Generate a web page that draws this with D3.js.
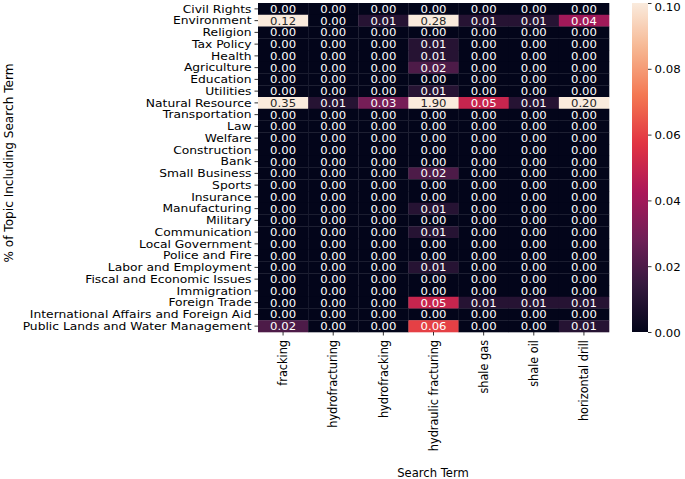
<!DOCTYPE html>
<html>
<head>
<meta charset="utf-8">
<script src="https://cdn.jsdelivr.net/npm/d3@7"></script>
<style>
  body { margin: 0; background: #fff; }
  text { font-family: "DejaVu Sans", sans-serif; }
</style>
</head>
<body>
<svg id="chart" width="685" height="479"></svg>
<script>
const terms = ["fracking", "hydrofracturing", "hydrofracking", "hydraulic fracturing", "shale gas", "shale oil", "horizontal drill"];
const topics = ["Civil Rights", "Environment", "Religion", "Tax Policy", "Health", "Agriculture", "Education", "Utilities",
  "Natural Resource", "Transportation", "Law", "Welfare", "Construction", "Bank", "Small Business", "Sports", "Insurance",
  "Manufacturing", "Military", "Communication", "Local Government", "Police and Fire", "Labor and Employment",
  "Fiscal and Economic Issues", "Immigration", "Foreign Trade", "International Affairs and Foreign Aid",
  "Public Lands and Water Management"];
// values per topic row, columns follow `terms`
const values = [
  [0, 0, 0, 0, 0, 0, 0],
  [0.12, 0, 0.01, 0.28, 0.01, 0.01, 0.04],
  [0, 0, 0, 0, 0, 0, 0],
  [0, 0, 0, 0.01, 0, 0, 0],
  [0, 0, 0, 0.01, 0, 0, 0],
  [0, 0, 0, 0.02, 0, 0, 0],
  [0, 0, 0, 0, 0, 0, 0],
  [0, 0, 0, 0.01, 0, 0, 0],
  [0.35, 0.01, 0.03, 1.90, 0.05, 0.01, 0.20],
  [0, 0, 0, 0, 0, 0, 0],
  [0, 0, 0, 0, 0, 0, 0],
  [0, 0, 0, 0, 0, 0, 0],
  [0, 0, 0, 0, 0, 0, 0],
  [0, 0, 0, 0, 0, 0, 0],
  [0, 0, 0, 0.02, 0, 0, 0],
  [0, 0, 0, 0, 0, 0, 0],
  [0, 0, 0, 0, 0, 0, 0],
  [0, 0, 0, 0.01, 0, 0, 0],
  [0, 0, 0, 0, 0, 0, 0],
  [0, 0, 0, 0.01, 0, 0, 0],
  [0, 0, 0, 0, 0, 0, 0],
  [0, 0, 0, 0, 0, 0, 0],
  [0, 0, 0, 0.01, 0, 0, 0],
  [0, 0, 0, 0, 0, 0, 0],
  [0, 0, 0, 0, 0, 0, 0],
  [0, 0, 0, 0.05, 0.01, 0.01, 0.01],
  [0, 0, 0, 0, 0, 0, 0],
  [0.02, 0, 0, 0.06, 0, 0, 0.01]
];
const colorTicks = [0, 0.02, 0.04, 0.06, 0.08, 0.10];
const rocketStops = ["#03051a", "#35193e", "#701f57", "#ad1759", "#e13342", "#f37651", "#f6b48f", "#faebdd"];
const rocketPos = [0, 1/7, 2/7, 3/7, 4/7, 5/7, 6/7, 1];

const svg = d3.select("#chart");
const mLeft = 258, mRight = 609, mTop = 3, mBottom = 332;
const vmin = 0, vmax = 0.1;
const FS = 11.3;

const x = d3.scaleBand().domain(terms).range([mLeft, mRight]);
const y = d3.scaleBand().domain(topics).range([mTop, mBottom]);
const rocket = d3.scaleLinear().domain(rocketPos).range(rocketStops).interpolate(d3.interpolateRgb).clamp(true);
const color = v => rocket((v - vmin) / (vmax - vmin));

const cells = [];
topics.forEach((t, i) => terms.forEach((s, j) => cells.push({t, s, v: values[i][j]})));

svg.append("g").selectAll("rect").data(cells).join("rect")
  .attr("x", d => x(d.s)).attr("y", d => y(d.t))
  .attr("width", x.bandwidth() + 0.3).attr("height", y.bandwidth() + 0.3)
  .attr("fill", d => color(d.v));

function lum(c) {
  const r = d3.rgb(c);
  const f = u => { u /= 255; return u <= 0.03928 ? u / 12.92 : Math.pow((u + 0.055) / 1.055, 2.4); };
  return 0.2126 * f(r.r) + 0.7152 * f(r.g) + 0.0722 * f(r.b);
}

svg.append("g").selectAll("text").data(cells).join("text")
  .attr("transform", d => `translate(${x(d.s) + x.bandwidth() / 2},${y(d.t) + y.bandwidth() / 2}) scale(1.03,1)`)
  .attr("dy", "0.36em")
  .attr("text-anchor", "middle")
  .attr("font-size", FS)
  .attr("fill", d => lum(color(d.v)) > 0.408 ? "#262626" : "#ffffff")
  .text(d => d3.format(".2f")(d.v));

// axes
const SY = 1.09;
const yAxis = d3.axisLeft(y).tickSizeOuter(0).tickSize(3.5).tickPadding(2);
const gy = svg.append("g").attr("transform", `translate(${mLeft},0)`).call(yAxis);
gy.select(".domain").remove();
gy.selectAll("text").attr("font-size", FS).attr("fill", "#000").style("font-family", "DejaVu Sans")
  .attr("x", -6.5 / SY).attr("transform", `scale(${SY},1)`);
gy.selectAll("line").attr("stroke", "#000").attr("stroke-width", 0.8);

const xAxis = d3.axisBottom(x).tickSizeOuter(0).tickSize(3.5).tickPadding(2);
const gx = svg.append("g").attr("transform", `translate(0,${mBottom})`).call(xAxis);
gx.select(".domain").remove();
gx.selectAll("line").attr("stroke", "#000").attr("stroke-width", 0.8);
gx.selectAll("text")
  .attr("font-size", FS).attr("fill", "#000").style("font-family", "DejaVu Sans")
  .attr("transform", `scale(1.08,1) rotate(-90)`)
  .attr("text-anchor", "end")
  .attr("x", -8).attr("y", 0).attr("dy", "0.35em");

svg.append("text").attr("x", 433).attr("y", 477).attr("text-anchor", "middle")
  .attr("font-size", 11.6).text("Search Term");
svg.append("text").attr("transform", `translate(13,163) rotate(-90)`).attr("text-anchor", "middle")
  .attr("font-size", 12.1).text("% of Topic Including Search Term");

// colorbar
const cbLeft = 632, cbRight = 648;
const cy = d3.scaleLinear().domain([vmin, vmax]).range([mBottom, mTop]);
const defs = svg.append("defs");
const grad = defs.append("linearGradient").attr("id", "cbgrad")
  .attr("x1", 0).attr("y1", 1).attr("x2", 0).attr("y2", 0);
d3.range(0, 1.0001, 0.02).forEach(t => grad.append("stop").attr("offset", t).attr("stop-color", rocket(t)));
svg.append("rect").attr("x", cbLeft).attr("y", mTop).attr("width", cbRight - cbLeft).attr("height", mBottom - mTop)
  .attr("fill", "url(#cbgrad)");
const cAxis = d3.axisRight(cy).tickValues(colorTicks).tickFormat(d3.format(".2f")).tickSize(3.5).tickPadding(3);
const gc = svg.append("g").attr("transform", `translate(${cbRight},0)`).call(cAxis);
gc.select(".domain").remove();
gc.selectAll("line").attr("stroke", "#000").attr("stroke-width", 0.8);
gc.selectAll("text").attr("font-size", FS).attr("fill", "#000").style("font-family", "DejaVu Sans")
  .attr("x", 6.5 / 1.04).attr("transform", `scale(1.04,1)`)
  .attr("dy", d => d === vmax ? "0.62em" : "0.36em");
</script>
</body>
</html>
